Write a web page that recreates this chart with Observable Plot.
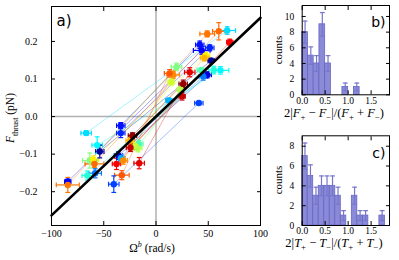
<!DOCTYPE html>
<html><head><meta charset="utf-8">
<script src="https://cdn.jsdelivr.net/npm/d3@7"></script>
<script src="https://cdn.jsdelivr.net/npm/@observablehq/plot@0.6"></script>
<style>
body{margin:0;background:#fff;}
#wrap{position:relative;width:399px;height:260px;overflow:hidden;background:#fff;}
.panel{position:absolute;}
.lbl{position:absolute;white-space:nowrap;font-family:"Liberation Serif",serif;color:#000;line-height:1;}
.lbl sub,.lbl sup{font-size:70%;line-height:0;}
.op{padding:0 0.25em;}
.rot{transform:translate(-50%,-50%) rotate(-90deg);}
.ctr{transform:translate(-50%,-50%);}
</style></head><body><div id="wrap"></div>
<script>
// ---- data: paired measurements (positive / negative rotation) ----
const colorIndex = [0.03,0.09,0.14,0.12,0.16,0.19,0.24,0.30,0.34,0.37,0.41,0.45,0.50,0.64,0.70,0.58,0.55,0.76,0.77,0.74,0.79,0.88,0.90,0.93,0.98];
const omegaPos    = [52.8,49,41.9,43.8,51.5,41,45.2,12.3,68.1,61.7,55.3,43.3,19.6,47.4,46.4,14.5,23.4,49,60.1,16.5,13,70.6,32.3,25,26];
const forcePos    = [0.149,0.111,0.191,0.176,0.183,0.036,0.107,0.043,0.229,0.123,0.124,0.124,0.132,0.163,0.156,0.092,0.072,0.220,0.227,0.111,0.115,0.198,0.118,0.054,0.087];
const omegaPosErr = [3,4,4,8,4,4,4,3,8,8,5,4,5,4,4,3,3,7,6,6,5,3,5,3,4];
const forcePosErr = [0.006,0.008,0.010,0.010,0.008,0.004,0.010,0.006,0.010,0.010,0.010,0.006,0.010,0.008,0.008,0.008,0.008,0.008,0.023,0.010,0.010,0.008,0.012,0.010,0.010];
const omegaNeg    = [-53.8,-35.9,-33.7,-84.4,-33.7,-40.4,-58.2,-33.7,-66.8,-56.3,-65.8,-16.4,-63.3,-60,-24.7,-19.6,-17.4,-84.4,-58.9,-31.4,-32.7,-37.8,-16.1,-24.4,-22.5];
const forceNeg    = [-0.093,-0.104,-0.024,-0.173,-0.044,-0.180,-0.151,-0.111,-0.044,-0.076,-0.157,-0.073,-0.117,-0.115,-0.064,-0.079,-0.084,-0.182,-0.126,-0.117,-0.156,-0.126,-0.124,-0.083,-0.051];
const omegaNegErr = [4,4,4,3,4,5,6,4,5,5,5,4,7,5,4,4,4,11,9,4,7,4,5,4,4];
const forceNegErr = [0.017,0.010,0.008,0.006,0.012,0.022,0.012,0.010,0.006,0.022,0.012,0.010,0.020,0.010,0.008,0.010,0.010,0.020,0.010,0.010,0.012,0.015,0.015,0.010,0.008];
const fitSlope = 0.00263;
const fitOmega = [-100, 100];
const xTicksMain = [-100,-50,0,50,100];
const yTicksMain = [-0.2,-0.1,0,0.1,0.2];
// histograms
const binWidthF = 0.125;
const countsF = [8,5,4,9,4,0,0,1,0,1];
const binWidthT = 0.12;
const countsT = [7,5,3,4,4,4,3,1,0,3,1,1,0,0,1];
const histXTicks = [0,0.5,1,1.5];
const histYTicksF = [0,2,4,6,8,10];
const histYTicksT = [0,2,4,6,8];

// ---- tables ----
const points = [];
const links = [];
colorIndex.forEach((c,i)=>{
  points.push({x:omegaPos[i],y:forcePos[i],ex:omegaPosErr[i],ey:forcePosErr[i],c});
  points.push({x:omegaNeg[i],y:forceNeg[i],ex:omegaNegErr[i],ey:forceNegErr[i],c});
  links.push({x1:omegaNeg[i],y1:forceNeg[i],x2:omegaPos[i],y2:forcePos[i],c});
});
const fitLine = fitOmega.map(o=>({x:o,y:fitSlope*o}));

const vcap = {draw(ctx,size){const r=Math.sqrt(size/Math.PI);ctx.moveTo(0,-r);ctx.lineTo(0,r);}};
const hcap = {draw(ctx,size){const r=Math.sqrt(size/Math.PI);ctx.moveTo(-r,0);ctx.lineTo(r,0);}};

const jet = {type:"linear",domain:[0,0.125,0.375,0.625,0.875,1],range:["#00007f","#0000ff","#00ffff","#ffff00","#ff0000","#7f0000"],interpolate:"rgb"};

function boxAxes(xt,yt,xfmt,yfmt,padX,padY){
  const none = ()=>"";
  return [
    Plot.axisX(xt,{anchor:"bottom",tickSize:4,dy:-4,tickFormat:none,label:null}),
    Plot.axisX(xt,{anchor:"top",tickSize:4,dy:4,tickFormat:none,label:null}),
    Plot.axisY(yt,{anchor:"left",tickSize:4,dx:4,tickFormat:none,label:null}),
    Plot.axisY(yt,{anchor:"right",tickSize:4,dx:-4,tickFormat:none,label:null}),
    Plot.axisX(xt,{anchor:"bottom",tickSize:0,tickPadding:padX,tickFormat:xfmt,label:null}),
    Plot.axisY(yt,{anchor:"left",tickSize:0,tickPadding:padY,tickFormat:yfmt,label:null}),
    Plot.frame({stroke:"#000",strokeWidth:1})
  ];
}

const wrap = document.getElementById("wrap");

const main = Plot.plot({
  width:270,height:260,marginLeft:51,marginRight:10,marginTop:6,marginBottom:35,
  style:{fontFamily:"Liberation Serif, serif",fontSize:"10px",background:"transparent",color:"#000"},
  x:{domain:[-100,100]},
  y:{domain:[-0.29,0.293]},
  color:jet,
  marks:[
    Plot.ruleX([0],{stroke:"#b0b0b0",strokeWidth:1.5}),
    Plot.ruleY([0],{stroke:"#b0b0b0",strokeWidth:1.5}),
    Plot.link(links,{x1:"x1",y1:"y1",x2:"x2",y2:"y2",stroke:"c",strokeOpacity:0.35,strokeWidth:1}),
    Plot.ruleY(points,{y:"y",x1:d=>d.x-d.ex,x2:d=>d.x+d.ex,stroke:"c",strokeWidth:1.2}),
    Plot.ruleX(points,{x:"x",y1:d=>d.y-d.ey,y2:d=>d.y+d.ey,stroke:"c",strokeWidth:1.2}),
    Plot.dot(points,{x:d=>d.x-d.ex,y:"y",symbol:vcap,r:2.4,stroke:"c",fill:"none",strokeWidth:1.2}),
    Plot.dot(points,{x:d=>d.x+d.ex,y:"y",symbol:vcap,r:2.4,stroke:"c",fill:"none",strokeWidth:1.2}),
    Plot.dot(points,{x:"x",y:d=>d.y-d.ey,symbol:hcap,r:2.4,stroke:"c",fill:"none",strokeWidth:1.2}),
    Plot.dot(points,{x:"x",y:d=>d.y+d.ey,symbol:hcap,r:2.4,stroke:"c",fill:"none",strokeWidth:1.2}),
    Plot.dot(points,{x:"x",y:"y",r:3.2,fill:"c",stroke:"none"}),
    Plot.line(fitLine,{x:"x",y:"y",stroke:"#000",strokeWidth:2.6}),
    ...boxAxes(xTicksMain,yTicksMain,d3.format("d"),d3.format(".1f"),4,14),
    Plot.text(["a)"],{frameAnchor:"top-left",text:d=>d,dx:5,dy:9,lineAnchor:"top",textAnchor:"start",fontSize:15,fontFamily:"DejaVu Sans, sans-serif"})
  ]
});
main.classList.add("panel");
main.style.left="0px";main.style.top="0px";
wrap.appendChild(main);

function hist(counts,bw,ymax,yt,tag,mt,mb){
  const bins = counts.map((n,i)=>({x1:i*bw,x2:(i+1)*bw,n})).filter(d=>d.n>0);
  return Plot.plot({
    width:129,height:130,marginLeft:31.7,marginRight:10,marginTop:mt,marginBottom:mb,
    style:{fontFamily:"Liberation Serif, serif",fontSize:"9.5px",background:"transparent",color:"#000"},
    x:{domain:[0,1.9]},
    y:{domain:[0,ymax]},
    marks:[
      Plot.rectY(bins,{x1:"x1",x2:"x2",y:"n",fill:"#8a8ad8",stroke:"#6666c2",strokeWidth:0.8}),
      Plot.ruleX(bins,{x:d=>(d.x1+d.x2)/2,y1:d=>d.n-Math.sqrt(d.n)/2,y2:d=>d.n+Math.sqrt(d.n)/2,stroke:"#7676cc",strokeWidth:1.2}),
      Plot.dot(bins,{x:d=>(d.x1+d.x2)/2,y:d=>d.n+Math.sqrt(d.n)/2,symbol:hcap,r:2.4,stroke:"#7676cc",fill:"none",strokeWidth:1.2}),
      Plot.dot(bins,{x:d=>(d.x1+d.x2)/2,y:d=>d.n-Math.sqrt(d.n)/2,symbol:hcap,r:2.4,stroke:"#7676cc",fill:"none",strokeWidth:1.2}),
      ...boxAxes(histXTicks,yt,d3.format(".1f"),d3.format("d"),2,8),
      Plot.text([tag],{frameAnchor:"top-right",text:d=>d,dx:-4,dy:12,lineAnchor:"top",textAnchor:"end",fontSize:14,fontFamily:"DejaVu Sans, sans-serif"})
    ]
  });
}
const hb = hist(countsF,binWidthF,11.4,histYTicksF,"b)",5,35.7);
hb.classList.add("panel");hb.style.left="270px";hb.style.top="0px";wrap.appendChild(hb);
const hc = hist(countsT,binWidthT,9.05,histYTicksT,"c)",5.3,35);
hc.classList.add("panel");hc.style.left="270px";hc.style.top="130px";wrap.appendChild(hc);

// ---- axis titles ----
function label(html,x,y,cls,size){
  const d=document.createElement("div");
  d.className="lbl "+cls;d.innerHTML=html;
  d.style.left=x+"px";d.style.top=y+"px";d.style.fontSize=size+"px";
  wrap.appendChild(d);
}
label("<i>F</i><sub>thrust</sub> (pN)",11,118,"rot",11.5);
label("Ω<sup><i>b</i></sup> (rad/s)",152,249,"ctr",11.5);
label("counts",278,50,"rot",11);
label("counts",278,180,"rot",11);
label("2|<i>F</i><sub>+</sub><span class='op'>−</span><i>F</i><sub>−</sub>|/(<i>F</i><sub>+</sub><span class='op'>+</span><i>F</i><sub>−</sub>)",334,113,"ctr",12.5);
label("2|<i>T</i><sub>+</sub><span class='op'>−</span><i>T</i><sub>−</sub>|/(<i>T</i><sub>+</sub><span class='op'>+</span><i>T</i><sub>−</sub>)",334,243,"ctr",12.5);
</script></body></html>
